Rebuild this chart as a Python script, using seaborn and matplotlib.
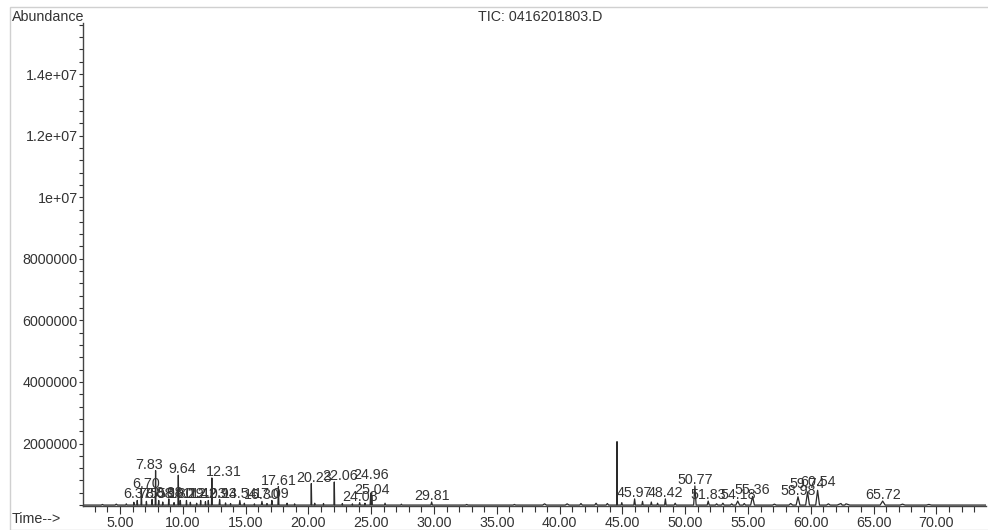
import pandas as pd
import matplotlib
matplotlib.use("Agg")
import matplotlib.pyplot as plt
from matplotlib.patches import Rectangle
from matplotlib.ticker import MultipleLocator, FixedLocator, FormatStrFormatter
import seaborn as sns

# labelled peaks (retention time in min, apex abundance, half width in min)
peak_labels = ["6.37", "6.70", "7.55", "7.83", "8.08", "8.88", "9.64", "9.80",
               "10.29", "11.42", "12.03", "12.31", "12.93", "14.54", "16.30",
               "17.09", "17.61", "20.23", "22.06", "24.08", "24.96", "25.04",
               "29.81", "45.97", "48.42", "50.77", "51.83", "54.18", "55.36",
               "58.98", "59.74", "60.54", "65.72"]
peak_heights = [150000, 500000, 180000, 1120000, 150000, 200000, 970000, 150000,
                150000, 150000, 150000, 880000, 180000, 150000, 120000,
                150000, 600000, 700000, 750000, 80000, 380000, 300000,
                100000, 200000, 200000, 620000, 130000, 130000, 280000,
                270000, 430000, 480000, 130000]
peak_widths = [0.03, 0.03, 0.03, 0.03, 0.03, 0.03, 0.03, 0.03,
               0.03, 0.03, 0.03, 0.03, 0.04, 0.05, 0.05,
               0.04, 0.04, 0.03, 0.03, 0.05, 0.05, 0.05,
               0.06, 0.06, 0.06, 0.10, 0.08, 0.15, 0.15,
               0.15, 0.15, 0.15, 0.20]

# unlabelled peaks and baseline bumps
other_rt = [3.6, 4.7, 5.5, 6.1, 7.1, 8.4, 9.3, 10.6, 11.1, 11.8, 13.4, 13.8,
            14.9, 15.7, 16.7, 18.3, 18.9, 20.5, 21.2, 22.7, 23.5, 24.5, 26.1,
            27.4, 32.6, 36.4, 38.8, 40.6, 41.7, 42.9, 43.8, 44.57, 44.95, 46.6,
            47.3, 47.8, 49.2, 52.5, 53.0, 53.7, 54.7, 57.1, 58.4, 61.4, 62.4,
            62.8, 67.3, 69.4]
other_heights = [20000, 30000, 40000, 90000, 120000, 100000, 80000, 90000, 60000,
                 110000, 70000, 50000, 60000, 40000, 50000, 60000, 40000, 60000,
                 50000, 50000, 40000, 60000, 60000, 30000, 20000, 20000, 40000,
                 40000, 50000, 60000, 50000, 2060000, 80000, 120000, 100000,
                 60000, 60000, 40000, 60000, 40000, 50000, 30000, 50000, 40000,
                 50000, 40000, 30000, 20000]
other_widths = [0.1, 0.1, 0.05, 0.03, 0.03, 0.03, 0.03, 0.03, 0.03, 0.03, 0.03,
                0.03, 0.03, 0.03, 0.03, 0.03, 0.03, 0.03, 0.03, 0.03, 0.03, 0.03,
                0.05, 0.05, 0.1, 0.1, 0.15, 0.15, 0.1, 0.1, 0.1, 0.03, 0.05, 0.05,
                0.05, 0.05, 0.08, 0.1, 0.1, 0.1, 0.1, 0.15, 0.15, 0.15, 0.3, 0.3,
                0.2, 0.2]

x_range = (2.09, 73.95)
y_range = (-30000, 15660000)
y_ticks = [2000000, 4000000, 6000000, 8000000, 10000000, 12000000, 14000000]
y_tick_labels = ["2000000", "4000000", "6000000", "8000000", "1e+07", "1.2e+07", "1.4e+07"]

# label nudges in pixels where the labels were shifted in the original
nudges = {"6.70": (5, 0), "7.83": (-6, 0), "9.64": (4, 0), "12.31": (12, 0),
          "20.23": (3, 0), "22.06": (6, 0), "24.96": (0, 12),
          "59.74": (0, 2), "60.54": (0, 2)}

peak_rt = [float(s) for s in peak_labels]

# build the trace: each peak as a narrow triangle on a flat baseline
rows = [(x_range[0], 0.0), (x_range[1], 0.0)]
for rt, h, w in zip(peak_rt + other_rt, peak_heights + other_heights,
                    peak_widths + other_widths):
    rows += [(rt - w, 0.0), (rt, h), (rt + w, 0.0)]
trace = pd.DataFrame(rows, columns=["time", "abundance"]).sort_values("time")

sns.set_theme(style="white")
plt.rcParams["font.family"] = ["Liberation Sans", "DejaVu Sans"]
ink = "#333333"

fig = plt.figure(figsize=(9.88, 5.30), dpi=100)
ax = fig.add_axes([0.0845, 0.0453, 0.9135, 0.9113])

sns.lineplot(data=trace, x="time", y="abundance", estimator=None, sort=False,
             color="#2a2a2a", lw=0.9, ax=ax)

for lab, rt, h in zip(peak_labels, peak_rt, peak_heights):
    dx, dy = nudges.get(lab, (0, 0))
    ax.annotate(lab, xy=(rt, h), xytext=(dx, 2 + dy), textcoords="offset pixels",
                ha="center", va="baseline", fontsize=10.3, color=ink)

ax.set_xlim(*x_range)
ax.set_ylim(*y_range)
ax.set_xlabel("")
ax.set_ylabel("")

ax.xaxis.set_major_locator(MultipleLocator(5))
ax.xaxis.set_minor_locator(MultipleLocator(1))
ax.xaxis.set_major_formatter(FormatStrFormatter("%.2f"))
ax.yaxis.set_major_locator(FixedLocator(y_ticks))
ax.set_yticklabels(y_tick_labels)
ax.yaxis.set_minor_locator(MultipleLocator(400000))

ax.tick_params(axis="x", which="major", direction="out", length=6, width=0.8,
               color=ink, labelsize=10.3, labelcolor=ink, pad=1, bottom=True)
ax.tick_params(axis="x", which="minor", direction="out", length=4, width=0.8,
               color=ink, bottom=True)
ax.tick_params(axis="y", which="major", direction="out", length=3, width=0.8,
               color=ink, labelsize=10.3, labelcolor=ink, pad=1, left=True)
ax.tick_params(axis="y", which="minor", direction="out", length=3, width=0.8,
               color=ink, left=True)

sns.despine(ax=ax)
for side in ["left", "bottom"]:
    ax.spines[side].set_color("#444444")
    ax.spines[side].set_linewidth(1.0)

W, H = 988, 530
fig.text(12 / W, 1 - 17 / H, "Abundance", ha="left", va="center", fontsize=10.3, color=ink)
fig.text(540 / W, 1 - 17 / H, "TIC: 0416201803.D", ha="center", va="center",
         fontsize=10.3, color=ink)
fig.text(12 / W, 1 - 519 / H, "Time-->", ha="left", va="center", fontsize=10.3, color=ink)

fig.patches.append(Rectangle((9.5 / W, 1 - 529.5 / H), (W - 9) / W, (529.5 - 6.7) / H,
                             transform=fig.transFigure, fill=False,
                             edgecolor="#d0d0d0", lw=1.0))

fig.savefig("out.png", dpi=100, facecolor="white")
